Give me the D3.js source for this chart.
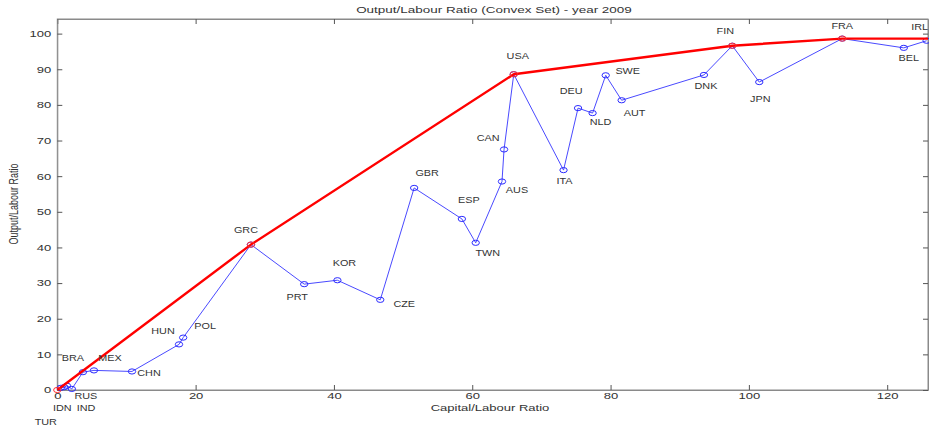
<!DOCTYPE html>
<html>
<head>
<meta charset="utf-8">
<script src="https://cdn.jsdelivr.net/npm/d3@7"></script>
<style>
  html, body { margin: 0; padding: 0; background: #fff; }
  svg { display: block; }
  text { font-family: "Liberation Sans", Arial, Helvetica, sans-serif; fill: #333; }
</style>
</head>
<body>
<div id="chart"></div>
<script>
// Countries ordered by capital per worker, 2009
const countries = ["TUR","IDN","IND","RUS","BRA","MEX","CHN","HUN","POL","GRC",
                   "PRT","KOR","CZE","GBR","ESP","TWN","AUS","CAN","USA","ITA",
                   "DEU","NLD","SWE","AUT","DNK","FIN","JPN","FRA","BEL","IRL"];
const capitalLabour = [0.5, 1.0, 1.4, 2.1, 3.7, 5.3, 10.8, 17.6, 18.2, 28.0,
                       35.7, 40.5, 46.7, 51.6, 58.5, 60.5, 64.3, 64.6, 66.0, 73.2,
                       75.3, 77.4, 79.3, 81.6, 93.5, 97.6, 101.5, 113.5, 122.4, 125.7];
const outputLabour = [0.6, 0.8, 1.2, 0.3, 5.0, 5.5, 5.2, 12.8, 14.7, 40.8,
                      29.7, 30.8, 25.3, 56.7, 48.0, 41.3, 58.5, 67.5, 88.6, 61.7,
                      79.1, 77.7, 88.3, 81.3, 88.4, 96.6, 86.4, 98.6, 96.0, 98.0];
const xTicks = [0, 20, 40, 60, 80, 100, 120];
const yTicks = [0, 10, 20, 30, 40, 50, 60, 70, 80, 90, 100];

// label placement relative to each marker (pixels)
const labelOffset = {
  TUR:[-15,34], IDN:[-2,21], IND:[19,22], RUS:[14,7], BRA:[-10,-14], MEX:[16,-12],
  CHN:[17,1], HUN:[-16,-13], POL:[22,-12], GRC:[-5,-15], PRT:[-7,13], KOR:[7,-17],
  CZE:[24,4], GBR:[13,-15], ESP:[7,-19], TWN:[12,10], AUS:[15,8], CAN:[-16,-12],
  USA:[4,-18], ITA:[1,11], DEU:[-7,-17], NLD:[8,9], SWE:[22,-4], AUT:[13,13],
  DNK:[2,11], FIN:[-7,-15], JPN:[1,17], FRA:[0,-13], BEL:[5,10], IRL:[-7,-14]
};

const W = 929, H = 430;
const plot = { left: 57.3, right: 928, top: 19, bottom: 390 };
const SX = 1.45;           // horizontal stretch for axis text
const FONT = 9;
const LABEL_SX = 1.26;     // horizontal stretch for country labels
const LABEL_FONT = 8.6;

const data = countries.map((c, i) => ({ c, k: capitalLabour[i], y: outputLabour[i] }));

// free-disposal convex frontier: upper hull from origin up to the max-output point, then flat
function frontier(points, xMax) {
  const top = points.reduce((a, b) => (b.y > a.y ? b : a));
  const cand = [{ k: 0, y: 0 }].concat(points.filter(p => p.k <= top.k)).sort((a, b) => a.k - b.k);
  const hull = [];
  for (const p of cand) {
    while (hull.length >= 2) {
      const a = hull[hull.length - 2], b = hull[hull.length - 1];
      const cross = (b.k - a.k) * (p.y - a.y) - (b.y - a.y) * (p.k - a.k);
      if (cross >= 0) hull.pop(); else break;
    }
    hull.push(p);
  }
  return { vertices: hull, line: hull.concat([{ k: xMax, y: top.y }]) };
}

const xDomain = [0, 125.9], yDomain = [0, 104.1];
const x = d3.scaleLinear().domain(xDomain).range([plot.left, plot.right]);
const y = d3.scaleLinear().domain(yDomain).range([plot.bottom, plot.top]);

const svg = d3.select("#chart").append("svg").attr("width", W).attr("height", H);
svg.append("rect").attr("width", W).attr("height", H).attr("fill", "#fff");

// frame
svg.append("rect")
  .attr("x", plot.left).attr("y", plot.top)
  .attr("width", plot.right - plot.left).attr("height", plot.bottom - plot.top)
  .attr("fill", "none").attr("stroke", "#8a8a8a").attr("stroke-width", 1);

function styleAxis(g) {
  g.select(".domain").attr("stroke", "#8a8a8a");
  g.selectAll(".tick line").attr("stroke", "#555");
  g.selectAll(".tick text").attr("font-size", FONT).attr("fill", "#333")
    .attr("font-family", "Liberation Sans, Arial, sans-serif");
}

// bottom / top
const gx = svg.append("g").attr("transform", `translate(0,${plot.bottom})`)
  .call(d3.axisBottom(x).tickValues(xTicks).tickSizeInner(-5).tickSizeOuter(0).tickPadding(3));
styleAxis(gx);
gx.selectAll(".tick text").attr("transform", `scale(${SX},1)`);
svg.append("g").attr("transform", `translate(0,${plot.top})`)
  .call(d3.axisTop(x).tickValues(xTicks).tickSizeInner(-5).tickSizeOuter(0).tickFormat(""))
  .call(styleAxis);

// left / right
const gy = svg.append("g").attr("transform", `translate(${plot.left},0)`)
  .call(d3.axisLeft(y).tickValues(yTicks).tickSizeInner(-5).tickSizeOuter(0).tickPadding(0));
styleAxis(gy);
gy.selectAll(".tick text").attr("x", null).attr("transform", `translate(-6,0) scale(${SX},1)`);
svg.append("g").attr("transform", `translate(${plot.right},0)`)
  .call(d3.axisRight(y).tickValues(yTicks).tickSizeInner(-5).tickSizeOuter(0).tickFormat(""))
  .call(styleAxis);

const plotArea = svg.append("g");

// country path
plotArea.append("path")
  .datum(data)
  .attr("fill", "none").attr("stroke", "#4a4aff").attr("stroke-width", 1)
  .attr("d", d3.line().x(d => x(d.k)).y(d => y(d.y)));

plotArea.selectAll("ellipse.pt").data(data).join("ellipse")
  .attr("class", "pt")
  .attr("cx", d => x(d.k)).attr("cy", d => y(d.y))
  .attr("rx", 3.7).attr("ry", 2.6)
  .attr("fill", "none").attr("stroke", "#2b2bff").attr("stroke-width", 1);

// frontier
const fr = frontier(data, xDomain[1]);
plotArea.append("path")
  .datum(fr.line)
  .attr("fill", "none").attr("stroke", "#ff0000").attr("stroke-width", 2.4)
  .attr("stroke-linejoin", "round")
  .attr("d", d3.line().x(d => x(d.k)).y(d => y(d.y)));
plotArea.selectAll("ellipse.hv").data(fr.vertices).join("ellipse")
  .attr("class", "hv")
  .attr("cx", d => x(d.k)).attr("cy", d => y(d.y))
  .attr("rx", 3.7).attr("ry", 2.6)
  .attr("fill", "none").attr("stroke", "#ff3030").attr("stroke-width", 1);

// country labels
svg.append("g").selectAll("text").data(data).join("text")
  .attr("transform", d => {
    const o = labelOffset[d.c] || [0, -12];
    return `translate(${x(d.k) + o[0]},${y(d.y) + o[1]}) scale(${LABEL_SX},1)`;
  })
  .attr("text-anchor", "middle").attr("dominant-baseline", "central")
  .attr("font-size", LABEL_FONT)
  .text(d => d.c);

// titles
svg.append("text")
  .attr("transform", `translate(494,9.5) scale(${SX},1)`)
  .attr("text-anchor", "middle").attr("dominant-baseline", "central")
  .attr("font-size", 9.3)
  .text("Output/Labour Ratio (Convex Set) - year 2009");
svg.append("text")
  .attr("transform", `translate(490,408) scale(${SX},1)`)
  .attr("text-anchor", "middle").attr("dominant-baseline", "central")
  .attr("font-size", FONT)
  .text("Capital/Labour Ratio");
svg.append("text")
  .attr("transform", `translate(13,204) scale(${SX},1) rotate(-90)`)
  .attr("text-anchor", "middle").attr("dominant-baseline", "central")
  .attr("font-size", FONT)
  .text("Output/Labour Ratio");
</script>
</body>
</html>
